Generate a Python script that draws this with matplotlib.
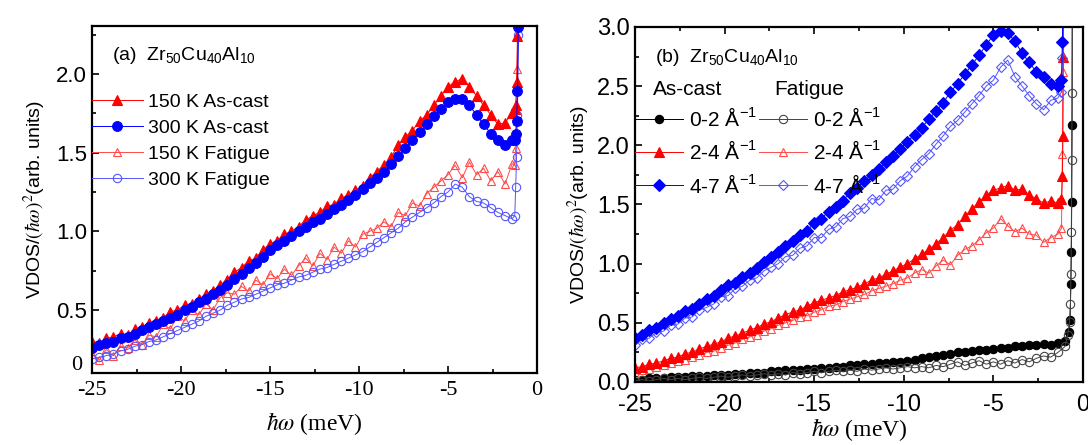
import numpy as np
import matplotlib
matplotlib.use('Agg')
import matplotlib.pyplot as plt
from matplotlib.ticker import MultipleLocator
from matplotlib.transforms import blended_transform_factory

plt.rcParams['font.family'] = ['Liberation Sans', 'DejaVu Sans']
plt.rcParams['axes.unicode_minus'] = False

# common energy grid (meV), 0.4 meV steps from -25 to -1.4
energy = np.round(np.arange(-25, -1.2, 0.4), 2)

# ---- panel (a): temperature / state comparison ----
tail_a = [-1.25, -1.2, -1.15, -1.1, -1.05, -1.0]

asc_150 = [0.30, 0.29, 0.32, 0.33, 0.35, 0.34, 0.38, 0.39, 0.42, 0.43,
           0.45, 0.49, 0.50, 0.53, 0.54, 0.57, 0.60, 0.62, 0.66, 0.69,
           0.74, 0.77, 0.81, 0.83, 0.88, 0.92, 0.94, 0.98, 1.00, 1.03,
           1.07, 1.10, 1.12, 1.16, 1.17, 1.21, 1.23, 1.26, 1.29, 1.34,
           1.38, 1.42, 1.47, 1.55, 1.60, 1.64, 1.70, 1.74, 1.80, 1.86,
           1.92, 1.95, 1.97, 1.92, 1.86, 1.80, 1.74, 1.68, 1.69, 1.75]
asc_150_tail = [1.78, 1.80, 1.95, 2.24, 2.6, 3.0]

asc_300 = [0.26, 0.28, 0.29, 0.30, 0.32, 0.33, 0.35, 0.37, 0.39, 0.41,
           0.43, 0.45, 0.47, 0.50, 0.52, 0.55, 0.57, 0.60, 0.63, 0.66,
           0.70, 0.73, 0.77, 0.80, 0.84, 0.88, 0.91, 0.94, 0.97, 1.00,
           1.03, 1.06, 1.08, 1.11, 1.14, 1.17, 1.20, 1.23, 1.27, 1.31,
           1.34, 1.38, 1.43, 1.48, 1.53, 1.58, 1.63, 1.68, 1.73, 1.78,
           1.82, 1.84, 1.84, 1.80, 1.74, 1.68, 1.62, 1.58, 1.55, 1.58]
asc_300_tail = [1.58, 1.62, 1.70, 1.89, 2.3, 2.8]

fat_150 = [0.22, 0.18, 0.25, 0.21, 0.27, 0.26, 0.31, 0.28, 0.34, 0.33,
           0.41, 0.38, 0.46, 0.43, 0.50, 0.47, 0.54, 0.50, 0.58, 0.61,
           0.60, 0.65, 0.62, 0.69, 0.66, 0.73, 0.70, 0.76, 0.72, 0.78,
           0.83, 0.78, 0.86, 0.82, 0.90, 0.86, 0.94, 0.90, 0.98, 1.00,
           1.02, 1.06, 1.03, 1.12, 1.10, 1.18, 1.16, 1.24, 1.28, 1.32,
           1.36, 1.42, 1.34, 1.44, 1.36, 1.40, 1.32, 1.38, 1.30, 1.43]
fat_150_tail = [1.42, 1.53, 1.70, 2.03, 2.4, 2.8]

fat_300 = [0.19, 0.20, 0.21, 0.22, 0.24, 0.25, 0.27, 0.28, 0.30, 0.31,
           0.33, 0.35, 0.37, 0.39, 0.41, 0.43, 0.46, 0.48, 0.50, 0.53,
           0.55, 0.57, 0.58, 0.60, 0.62, 0.64, 0.66, 0.67, 0.69, 0.71,
           0.72, 0.74, 0.76, 0.77, 0.79, 0.81, 0.83, 0.85, 0.87, 0.90,
           0.93, 0.96, 0.99, 1.02, 1.06, 1.09, 1.12, 1.15, 1.18, 1.22,
           1.25, 1.30, 1.28, 1.22, 1.19, 1.18, 1.15, 1.12, 1.10, 1.08]
fat_300_tail = [1.10, 1.28, 1.47, 1.74, 2.25, 2.8]

# ---- panel (b): Q-range comparison ----
tail_b = [-1.2, -1.15, -1.12, -1.1, -1.08]
tail_b0 = [-1.0, -0.8, -0.72, -0.68, -0.65, -0.63, -0.61, -0.6]
tail_b0f = [-1.0, -0.85, -0.75, -0.7, -0.67, -0.65, -0.63, -0.61, -0.59]

asc_47 = [0.37, 0.40, 0.44, 0.46, 0.50, 0.53, 0.56, 0.60, 0.62, 0.66,
          0.70, 0.73, 0.78, 0.82, 0.84, 0.89, 0.92, 0.96, 1.01, 1.06,
          1.10, 1.15, 1.19, 1.24, 1.28, 1.34, 1.38, 1.44, 1.48, 1.53,
          1.60, 1.64, 1.70, 1.75, 1.80, 1.86, 1.91, 1.97, 2.03, 2.09,
          2.15, 2.22, 2.29, 2.36, 2.45, 2.52, 2.60, 2.68, 2.76, 2.85,
          2.93, 2.97, 2.95, 2.88, 2.78, 2.70, 2.62, 2.58, 2.52, 2.50]
asc_47_tail = [2.55, 2.87, 3.2, 3.4, 3.6]

fat_47 = [0.31, 0.36, 0.37, 0.42, 0.43, 0.48, 0.49, 0.54, 0.55, 0.61,
          0.63, 0.66, 0.72, 0.73, 0.79, 0.81, 0.86, 0.88, 0.94, 0.97,
          1.00, 1.06, 1.07, 1.13, 1.15, 1.22, 1.22, 1.29, 1.31, 1.38,
          1.40, 1.46, 1.47, 1.55, 1.54, 1.62, 1.63, 1.70, 1.74, 1.82,
          1.88, 1.93, 2.01, 2.08, 2.16, 2.21, 2.28, 2.35, 2.42, 2.50,
          2.55, 2.66, 2.72, 2.58, 2.50, 2.42, 2.35, 2.30, 2.38, 2.40]
fat_47_tail = [2.45, 2.74, 3.1, 3.4, 3.6]

asc_24 = [0.12, 0.13, 0.15, 0.16, 0.18, 0.20, 0.21, 0.24, 0.25, 0.28,
          0.30, 0.32, 0.34, 0.37, 0.39, 0.41, 0.44, 0.46, 0.49, 0.51,
          0.54, 0.57, 0.59, 0.61, 0.64, 0.67, 0.69, 0.71, 0.73, 0.76,
          0.78, 0.80, 0.83, 0.86, 0.88, 0.91, 0.94, 0.97, 1.00, 1.04,
          1.08, 1.12, 1.17, 1.22, 1.28, 1.33, 1.40, 1.46, 1.52, 1.58,
          1.62, 1.64, 1.66, 1.62, 1.63, 1.58, 1.55, 1.51, 1.53, 1.51]
asc_24_tail = [1.55, 1.74, 2.08, 2.75, 3.2]

fat_24 = [0.08, 0.10, 0.11, 0.13, 0.14, 0.16, 0.18, 0.19, 0.21, 0.23,
          0.25, 0.26, 0.29, 0.31, 0.33, 0.36, 0.38, 0.40, 0.43, 0.45,
          0.48, 0.50, 0.52, 0.55, 0.56, 0.59, 0.61, 0.64, 0.65, 0.68,
          0.70, 0.72, 0.74, 0.77, 0.79, 0.81, 0.83, 0.86, 0.88, 0.92,
          0.95, 0.92, 0.98, 1.03, 0.99, 1.07, 1.12, 1.15, 1.20, 1.26,
          1.30, 1.38, 1.32, 1.27, 1.30, 1.25, 1.24, 1.18, 1.22, 1.25]
fat_24_tail = [1.30, 1.93, 2.62, 3.2, 3.6]

asc_02 = [0.02, 0.02, 0.03, 0.03, 0.03, 0.04, 0.04, 0.04, 0.05, 0.05,
          0.05, 0.06, 0.06, 0.06, 0.07, 0.07, 0.08, 0.08, 0.08, 0.09,
          0.09, 0.10, 0.10, 0.10, 0.11, 0.11, 0.12, 0.12, 0.13, 0.13,
          0.14, 0.14, 0.15, 0.15, 0.16, 0.16, 0.17, 0.17, 0.18, 0.19,
          0.20, 0.21, 0.22, 0.23, 0.24, 0.25, 0.25, 0.26, 0.27, 0.27,
          0.28, 0.29, 0.29, 0.30, 0.30, 0.31, 0.31, 0.32, 0.31, 0.33]
asc_02_tail = [0.35, 0.42, 0.52, 0.83, 1.10, 1.52, 2.17, 3.2]

fat_02 = [0.01, 0.02, 0.01, 0.02, 0.03, 0.02, 0.03, 0.02, 0.03, 0.04,
          0.03, 0.04, 0.05, 0.04, 0.05, 0.06, 0.05, 0.06, 0.07, 0.06,
          0.07, 0.06, 0.08, 0.07, 0.08, 0.09, 0.08, 0.09, 0.10, 0.09,
          0.10, 0.09, 0.11, 0.10, 0.11, 0.12, 0.11, 0.12, 0.13, 0.12,
          0.13, 0.12, 0.14, 0.13, 0.15, 0.17, 0.14, 0.16, 0.18, 0.15,
          0.17, 0.15, 0.18, 0.16, 0.19, 0.17, 0.20, 0.22, 0.21, 0.25]
fat_02_tail = [0.30, 0.40, 0.51, 0.66, 0.91, 1.27, 1.88, 2.44, 3.2]

alloy = r'Zr$_{\mathregular{50}}$Cu$_{\mathregular{40}}$Al$_{\mathregular{10}}$'
ylab = r'VDOS/$(\hbar\omega)^2$(arb. units)'
xlab = r'$\hbar\omega$ (meV)'
qlab = ['0-2 Å$^{\\mathregular{-1}}$', '2-4 Å$^{\\mathregular{-1}}$',
        '4-7 Å$^{\\mathregular{-1}}$']


def series(ax, x, y, tx, ty, color, marker, filled, ms, label, lw=0.7):
    xx = list(x) + list(tx)
    yy = list(y) + list(ty)
    return ax.plot(xx, yy, color=color, lw=lw, marker=marker, ms=ms,
                   mfc=color if filled else 'none', mec=color, mew=0.8,
                   label=label)[0]


def style(ax, top_ticks, size):
    for s in ax.spines.values():
        s.set_linewidth(1.6)
    ax.set_xlim(-25, 0)
    ax.xaxis.set_major_locator(MultipleLocator(5))
    ax.xaxis.set_minor_locator(MultipleLocator(2.5))
    ax.yaxis.set_minor_locator(MultipleLocator(0.25))
    ax.tick_params(which='both', direction='in', top=top_ticks, right=False,
                   width=1.2)
    ax.tick_params(which='major', length=5, labelsize=size)
    ax.tick_params(which='minor', length=3)


fig = plt.figure(figsize=(10.88, 4.45), dpi=100)

# ---------- (a) ----------
ax1 = fig.add_axes([0.0846, 0.1618, 0.409, 0.780])
series(ax1, energy, fat_150, tail_a, fat_150_tail, '#ff4a4a', '^', False, 6, '150 K Fatigue')
series(ax1, energy, fat_300, tail_a, fat_300_tail, '#5555ff', 'o', False, 6, '300 K Fatigue')
series(ax1, energy, asc_150, tail_a, asc_150_tail, '#ff0000', '^', True, 7, '150 K As-cast')
series(ax1, energy, asc_300, tail_a, asc_300_tail, '#0000ff', 'o', True, 7, '300 K As-cast')
style(ax1, False, 16)
ax1.set_ylim(0.1, 2.305)
ax1.set_yticks([0.5, 1.0, 1.5, 2.0])
ax1.set_yticklabels(['0.5', '1.0', '1.5', '2.0'])
ax1.tick_params(axis='x', pad=6)
for lab in ax1.get_xticklabels():
    lab.set_fontfamily('Liberation Serif')
trans = blended_transform_factory(ax1.transAxes, ax1.transData)
ax1.text(-0.022, 0.15, '0', transform=trans, ha='right', va='center',
         fontsize=16, family='Liberation Serif')
ax1.text(0.045, 0.915, '(a)  ' + alloy, transform=ax1.transAxes, fontsize=14,
         va='center')
h, l = ax1.get_legend_handles_labels()
order = [2, 3, 0, 1]
ax1.legend([h[i] for i in order], [l[i] for i in order], loc='upper left',
           bbox_to_anchor=(0.0, 0.805), frameon=False, fontsize=14,
           handlelength=2.6, handletextpad=0.3, labelspacing=0.43,
           borderpad=0.0, borderaxespad=0.0)
ax1.set_ylabel(ylab, fontsize=14, math_fontfamily='stix', labelpad=6)
ax1.set_xlabel(xlab, fontsize=17, family='Liberation Serif',
               math_fontfamily='stix', labelpad=7)

# ---------- (b) ----------
ax2 = fig.add_axes([0.5836, 0.1416, 0.4118, 0.7978])
h02 = series(ax2, energy, asc_02, tail_b0, asc_02_tail, 'black', 'o', True, 6, qlab[0])
f02 = series(ax2, energy, fat_02, tail_b0f, fat_02_tail, '#444444', 'o', False, 6, qlab[0])
f24 = series(ax2, energy, fat_24, tail_b, fat_24_tail, '#ff4a4a', '^', False, 6, qlab[1])
h24 = series(ax2, energy, asc_24, tail_b, asc_24_tail, '#ff0000', '^', True, 7, qlab[1])
f47 = series(ax2, energy, fat_47, tail_b, fat_47_tail, '#5555ff', 'D', False, 5, qlab[2])
h47 = series(ax2, energy, asc_47, tail_b, asc_47_tail, '#0000ff', 'D', True, 6, qlab[2])
style(ax2, True, 17)
ax2.set_ylim(0, 3.0)
ax2.yaxis.set_major_locator(MultipleLocator(0.5))
ax2.yaxis.set_major_formatter('{x:.1f}')
ax2.tick_params(axis='x', pad=9)
ax2.text(0.045, 0.913, '(b)  ' + alloy, transform=ax2.transAxes, fontsize=14,
         va='center')
ax2.text(0.04, 0.823, 'As-cast', transform=ax2.transAxes, fontsize=15,
         va='center')
ax2.text(0.31, 0.823, 'Fatigue', transform=ax2.transAxes, fontsize=15,
         va='center')
hs = [h02, h24, h47, f02, f24, f47]
ax2.legend(hs, [x.get_label() for x in hs], ncol=2, loc='upper left',
           bbox_to_anchor=(0.0, 0.775), frameon=False, fontsize=15,
           handlelength=2.3, handletextpad=0.3, labelspacing=0.5,
           columnspacing=0.1, borderpad=0.0, borderaxespad=0.0)
ax2.set_ylabel(ylab, fontsize=14, math_fontfamily='stix', labelpad=4)
ax2.set_xlabel(xlab, fontsize=17, family='Liberation Serif',
               math_fontfamily='stix', labelpad=0)

fig.savefig('out.png', dpi=100, facecolor='white')
